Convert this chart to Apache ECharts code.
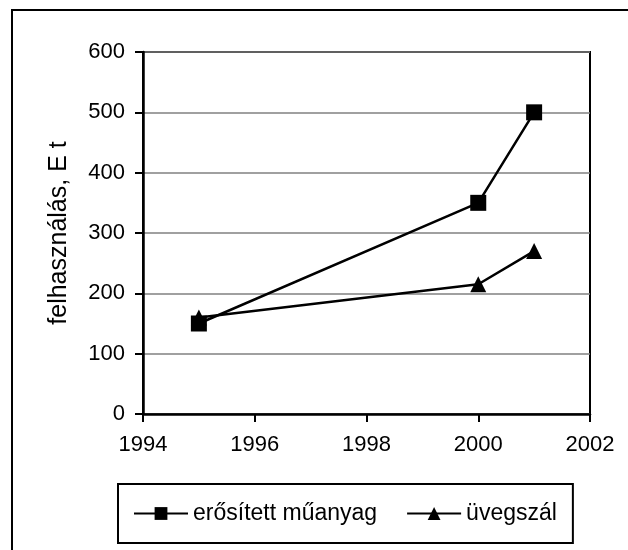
<!DOCTYPE html>
<html>
<head>
<meta charset="utf-8">
<script src="https://cdn.jsdelivr.net/npm/echarts@6/dist/echarts.min.js"></script>
<style>
  html, body { margin: 0; padding: 0; background: #fff; }
  #main { width: 628px; height: 550px; }
</style>
</head>
<body>
<div id="main"></div>
<script>
// adatok
const years = [1995, 2000, 2001]
const muanyag = [150, 350, 500]   // erősített műanyag
const uvegszal = [160, 215, 270]  // üvegszál
const seriesNames = ['erősített műanyag', 'üvegszál']

const font = 'Liberation Sans, Arial, sans-serif'

const chart = echarts.init(document.getElementById('main'))

const option = {
  animation: false,
  textStyle: { fontFamily: font, color: '#000' },
  graphic: [
    {
      // külső keret
      type: 'rect',
      shape: { x: 12, y: 10, width: 640, height: 560 },
      style: { fill: 'none', stroke: '#000', lineWidth: 2 },
      silent: true
    }
  ],
  grid: {
    left: 143,
    top: 52,
    right: 38,
    bottom: 136,
    show: true,
    borderColor: '#000',
    borderWidth: 2
  },
  legend: {
    data: seriesNames,
    left: 118,
    top: 484,
    orient: 'horizontal',
    borderColor: '#000',
    borderWidth: 2,
    padding: [18, 16, 18, 15],
    itemWidth: 54,
    itemHeight: 16,
    itemGap: 29,
    textStyle: { fontFamily: font, fontSize: 23, color: '#000' }
  },
  xAxis: {
    type: 'value',
    min: 1994,
    max: 2002,
    interval: 2,
    axisLine: { show: true, lineStyle: { color: '#000', width: 2.5 } },
    axisTick: { show: true, length: 8, lineStyle: { color: '#000', width: 2 } },
    axisLabel: {
      fontSize: 22,
      color: '#000',
      margin: 20,
      fontFamily: font,
      formatter: (v) => String(v) // ezres elválasztó nélkül
    },
    splitLine: { show: false }
  },
  yAxis: {
    type: 'value',
    min: 0,
    max: 600,
    interval: 100,
    name: 'felhasználás, E t',
    nameLocation: 'middle',
    nameGap: 71,
    nameTextStyle: { fontSize: 25, color: '#000', fontFamily: font },
    axisLine: { show: true, lineStyle: { color: '#000', width: 2.5 } },
    axisTick: { show: true, length: 8, lineStyle: { color: '#000', width: 2 } },
    axisLabel: { fontSize: 22, color: '#000', margin: 18, fontFamily: font },
    splitLine: { show: true, lineStyle: { color: '#808080', width: 1.5 } }
  },
  series: [
    {
      name: seriesNames[0],
      type: 'line',
      z: 3,
      data: years.map((y, i) => [y, muanyag[i]]),
      symbol: 'rect',
      symbolSize: 16,
      lineStyle: { color: '#000', width: 2.5 },
      itemStyle: { color: '#000' }
    },
    {
      name: seriesNames[1],
      type: 'line',
      z: 2,
      data: years.map((y, i) => [y, uvegszal[i]]),
      symbol: 'triangle',
      symbolSize: 16,
      lineStyle: { color: '#000', width: 2.5 },
      itemStyle: { color: '#000' }
    }
  ]
}

chart.setOption(option)
</script>
</body>
</html>
